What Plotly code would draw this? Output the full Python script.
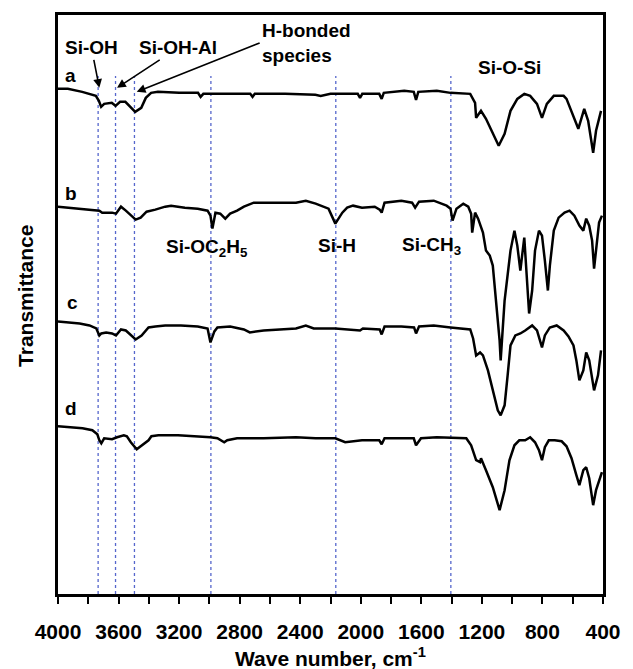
import plotly.graph_objects as go

# ---- data (wavenumber cm-1, transmittance a.u. incl. vertical offset) ----
wn_a = [4000, 3935, 3840, 3750, 3730, 3715, 3695, 3645, 3620, 3590, 3555, 3525, 3490, 3450, 3420,
        3385, 3340, 3200, 3075, 3058, 3040, 2800, 2730, 2715, 2700, 2500, 2300, 2265, 2200, 2020,
        2005, 1990, 1878, 1862, 1848, 1713, 1650, 1635, 1620, 1498, 1407, 1277, 1245, 1238, 1206,
        1173, 1128, 1089, 1050, 1011, 966, 920, 881, 836, 803, 771, 725, 660, 641, 608,
        563, 524, 498, 465, 446, 413]
t_a = [506, 506, 503, 499, 494, 488, 491, 492, 489, 493, 493, 488, 483, 487, 497,
       502, 503, 502, 502, 498, 501, 501, 501, 498, 501, 501, 500, 499, 501, 501,
       497, 501, 501, 496, 502, 504, 503, 495, 503, 504, 502, 501, 492, 477, 484,
       476, 462, 449, 461, 484, 496, 501, 499, 491, 477, 491, 499, 499, 496, 484,
       466, 486, 474, 442, 464, 484]

wn_b = [4000, 3727, 3708, 3643, 3617, 3584, 3552, 3519, 3487, 3454, 3415, 3357, 3292, 3253, 3162,
        3077, 3012, 2993, 2980, 2960, 2928, 2895, 2863, 2817, 2772, 2707, 2642, 2428, 2363, 2298,
        2213, 2168, 2122, 2090, 2051, 1992, 1908, 1875, 1862, 1843, 1732, 1661, 1641, 1615, 1518,
        1433, 1407, 1394, 1368, 1323, 1290, 1271, 1264, 1245, 1225, 1193, 1173, 1148, 1128, 1108,
        1083, 1076, 1050, 1011, 985, 966, 946, 920, 901, 888, 868, 849, 823, 803, 784,
        764, 751, 725, 693, 654, 621, 589, 556, 530, 511, 491, 472, 459, 439, 426, 407]
t_b = [388, 384, 382, 382, 381, 388, 384, 379, 375, 377, 383, 385, 388, 389, 387,
       386, 384, 379, 366, 382, 381, 376, 381, 384, 388, 392, 392, 392, 394, 391,
       386, 371, 382, 387, 389, 387, 388, 385, 382, 392, 394, 392, 387, 393, 394,
       389, 386, 374, 386, 391, 388, 381, 362, 382, 376, 362, 344, 339, 329, 297,
       254, 234, 294, 344, 364, 349, 324, 357, 314, 281, 304, 344, 364, 359, 334,
       304, 329, 364, 377, 382, 384, 379, 369, 364, 376, 369, 354, 326, 354, 372, 379]

wn_c = [4000, 3942, 3857, 3792, 3747, 3727, 3714, 3682, 3643, 3617, 3584, 3552, 3519, 3487, 3448,
        3402, 3357, 3292, 3188, 3077, 3012, 2993, 2967, 2947, 2863, 2772, 2733, 2642, 2428, 2363,
        2311, 2168, 2005, 1986, 1875, 1862, 1843, 1732, 1648, 1635, 1615, 1518, 1407, 1303, 1277,
        1258, 1238, 1212, 1193, 1160, 1128, 1095, 1076, 1050, 1030, 1011, 979, 946, 914, 868,
        836, 816, 803, 784, 751, 706, 660, 628, 595, 576, 556, 530, 511, 491, 465,
        459, 433, 413]
t_c = [273, 272, 271, 269, 266, 259, 261, 262, 261, 259, 265, 264, 259, 255, 259,
       267, 268, 269, 269, 268, 266, 252, 263, 267, 268, 265, 262, 264, 266, 269,
       266, 266, 264, 266, 265, 260, 268, 268, 267, 261, 268, 269, 267, 266, 265,
       256, 239, 242, 239, 224, 204, 184, 179, 189, 219, 249, 259, 261, 264, 269,
       264, 254, 247, 259, 267, 269, 264, 258, 249, 234, 214, 224, 242, 234, 211,
       204, 219, 244]

wn_d = [4000, 3903, 3838, 3773, 3740, 3727, 3714, 3695, 3643, 3610, 3565, 3545, 3519, 3480, 3448,
        3402, 3383, 3337, 3207, 3077, 2993, 2947, 2902, 2882, 2817, 2642, 2428, 2298, 2168, 2103,
        1992, 1878, 1862, 1843, 1650, 1635, 1602, 1498, 1303, 1271, 1238, 1212, 1206, 1173, 1128,
        1083, 1050, 1018, 985, 953, 914, 881, 849, 823, 803, 784, 758, 719, 673, 641,
        608, 576, 556, 530, 511, 491, 465, 446, 426, 407]
t_d = [168, 167, 166, 164, 160, 154, 151, 156, 155, 157, 159, 158, 152, 145, 149,
       154, 158, 159, 159, 158, 157, 156, 152, 154, 156, 156, 157, 156, 156, 152,
       154, 154, 150, 156, 156, 149, 156, 157, 156, 149, 134, 132, 136, 124, 107,
       84, 104, 134, 149, 154, 154, 157, 152, 144, 134, 147, 154, 154, 153, 148,
       136, 119, 109, 124, 127, 116, 89, 104, 114, 122]

series_names = ["a", "b", "c", "d"]
band_positions = [3735, 3620, 3495, 2990, 2165, 1405]
major_ticks = [4000, 3600, 3200, 2800, 2400, 2000, 1600, 1200, 800, 400]
minor_ticks = [3800, 3400, 3000, 2600, 2200, 1800, 1400, 1000, 600]

FONT = "Liberation Sans, Arial, sans-serif"

fig = go.Figure()
for name, wx, ty in zip(series_names, [wn_a, wn_b, wn_c, wn_d], [t_a, t_b, t_c, t_d]):
    fig.add_trace(go.Scatter(x=wx, y=ty, mode="lines", name=name,
                             line=dict(color="black", width=2.5), showlegend=False))

for b in band_positions:
    fig.add_shape(type="line", xref="x", yref="y", x0=b, x1=b, y0=0, y1=519,
                  line=dict(color="#5566cc", width=1.3, dash="dot"), layer="below")

def tfont(size):
    return dict(family=FONT, size=size, color="black", weight="bold")

def label(text, x, y, size=19, xanchor="center", align="center"):
    fig.add_annotation(x=x, y=y, xref="x", yref="y", text=text, showarrow=False,
                       xanchor=xanchor, align=align, font=tfont(size))

def arrow_label(text, head, tail, xanchor="center", align="center", size=19):
    fig.add_annotation(x=head[0], y=head[1], ax=tail[0], ay=tail[1],
                       xref="x", yref="y", axref="x", ayref="y",
                       text=text, showarrow=True, arrowhead=2, arrowsize=1.1,
                       arrowwidth=1.6, arrowcolor="black",
                       xanchor=xanchor, align=align, font=tfont(size))

# curve letters
for name, (lx, ly) in zip(series_names, [(3916, 519), (3916, 401), (3903, 292), (3916, 186)]):
    label(name, lx, ly)

arrow_label("Si-OH", (3727, 507), (3779, 547))
arrow_label("Si-OH-Al", (3610, 507), (3207, 547))
arrow_label("H-bonded<br>species", (3480, 503), (2668, 552), xanchor="left", align="left")
label("Si-O-Si", 1018, 527)
label("Si-OC<sub>2</sub>H<sub>5</sub>", 3019, 347)
label("Si-H", 2155, 349)
label("Si-CH<sub>3</sub>", 1531, 349)

# axis titles placed as text outside the frame
fig.add_annotation(x=-0.0596, y=0.514, xref="paper", yref="paper", text="Transmittance",
                   textangle=-90, showarrow=False, xanchor="center", yanchor="middle",
                   font=tfont(21))
fig.add_annotation(x=0.5, y=-0.108, xref="paper", yref="paper",
                   text="Wave number, cm<sup>-1</sup>",
                   showarrow=False, xanchor="center", yanchor="middle", font=tfont(21))

fig.update_layout(
    width=633, height=669,
    margin=dict(l=58, r=21, t=14, b=75),
    paper_bgcolor="white", plot_bgcolor="white",
    font=dict(family=FONT, color="black"),
    xaxis=dict(range=[4000, 400], tickmode="array", tickvals=major_ticks,
               ticks="outside", ticklen=7, tickwidth=2, tickcolor="black",
               ticklabelstandoff=10,
               minor=dict(tickmode="array", tickvals=minor_ticks, ticks="outside",
                          ticklen=7, tickwidth=2, tickcolor="black", showgrid=False),
               showline=True, linecolor="black", linewidth=2.5, mirror=True,
               showgrid=False, zeroline=False,
               tickfont=tfont(21)),
    yaxis=dict(range=[0, 580], showticklabels=False, ticks="",
               showline=True, linecolor="black", linewidth=2.5, mirror=True,
               showgrid=False, zeroline=False),
)

fig.write_html("out.html",
               config={"displayModeBar": False},
               post_script="document.body.style.margin='0px';"
                           "document.body.style.overflow='hidden';")
